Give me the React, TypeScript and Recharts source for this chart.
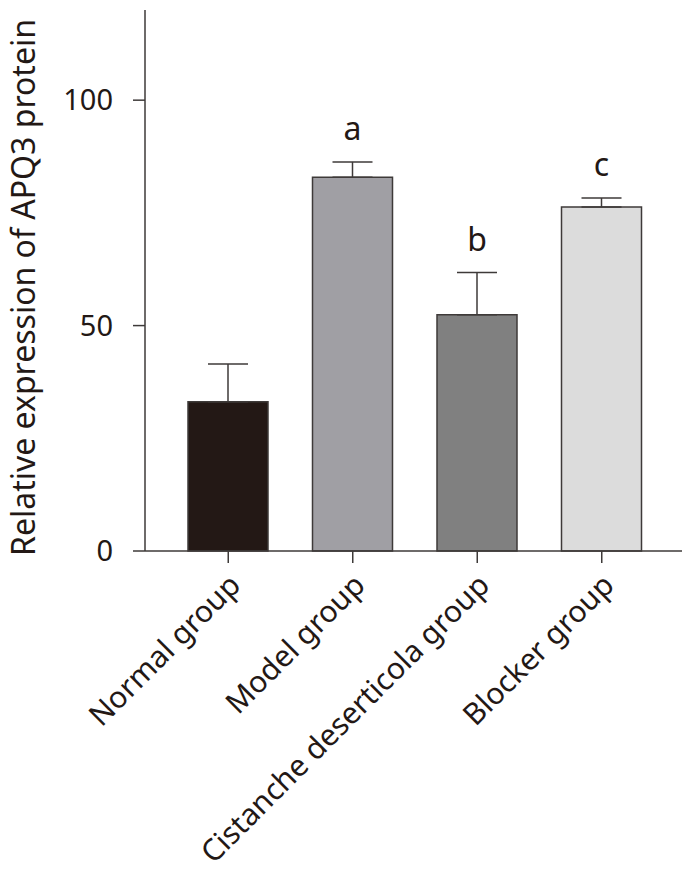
import { Bar, BarChart, Cell, ErrorBar, LabelList, XAxis, YAxis } from "recharts";

const groups = [
  "Normal group",
  "Model group",
  "Cistanche deserticola group",
  "Blocker group",
];
const means = [33.1, 82.9, 52.4, 76.3];
const sdUpper = [8.4, 3.4, 9.4, 2.0];
const letters = ["", "a", "b", "c"];
const yTicks = [0, 50, 100];

const fills = ["#231815", "#a09fa4", "#808080", "#dcdcdc"];
const ink = "#231815";
const lineColor = "#3e3a39";
const font = "'Noto Sans', sans-serif";

const data = groups.map((g, i) => ({
  group: g,
  value: means[i],
  err: [0, sdUpper[i]],
  letter: letters[i],
}));

function XTick(props: any) {
  const { x, y, payload } = props;
  const tx = x + 14;
  const ty = y + 22;
  return (
    <text
      x={tx}
      y={ty}
      transform={`rotate(-45, ${tx}, ${ty})`}
      textAnchor="end"
      fontSize={30}
      fontFamily={font}
      fill={ink}
    >
      {payload.value}
    </text>
  );
}

function renderLetter(props: any) {
  const { x, y, width, height, value, index } = props;
  if (!value) return null;
  const errPx = (sdUpper[index] * height) / means[index];
  return (
    <text
      x={x + width / 2}
      y={y - errPx - 34}
      textAnchor="middle"
      dominantBaseline="central"
      fontSize={32}
      fontFamily={font}
      fill={ink}
    >
      {value}
    </text>
  );
}

function YLabel(props: any) {
  const { viewBox } = props;
  const cx = viewBox.x + 22;
  const cy = viewBox.y + viewBox.height / 2 + 7;
  return (
    <text
      x={cx}
      y={cy}
      transform={`rotate(-90, ${cx}, ${cy})`}
      textAnchor="middle"
      dominantBaseline="central"
      fontSize={32}
      fontFamily={font}
      fill={ink}
    >
      Relative expression of APQ3 protein
    </text>
  );
}

export default function App() {
  return (
    <div style={{ margin: "-8px 0 0 -8px", background: "#fff", width: 690, height: 875 }}>
      <BarChart
        width={690}
        height={875}
        data={data}
        margin={{ top: 10, right: 0, left: 0, bottom: 0 }}
      >
        <XAxis
          dataKey="group"
          height={324}
          padding={{ left: 21, right: 26 }}
          tickSize={12}
          axisLine={{ stroke: lineColor, strokeWidth: 1.5 }}
          tickLine={{ stroke: lineColor, strokeWidth: 1.5 }}
          tick={<XTick />}
          interval={0}
        />
        <YAxis
          width={145}
          domain={[0, 120]}
          ticks={yTicks}
          tickSize={12}
          tickMargin={20}
          axisLine={{ stroke: lineColor, strokeWidth: 1.5 }}
          tickLine={{ stroke: lineColor, strokeWidth: 1.5 }}
          tick={{ fontSize: 29, fontFamily: font, fill: ink }}
          label={<YLabel />}
        />
        <Bar
          dataKey="value"
          barSize={80}
          stroke={lineColor}
          strokeWidth={1.5}
          isAnimationActive={false}
        >
          {data.map((d, i) => (
            <Cell key={d.group} fill={fills[i]} />
          ))}
          <ErrorBar
            dataKey="err"
            direction="y"
            width={20}
            stroke={lineColor}
            strokeWidth={1.5}
            isAnimationActive={false}
          />
          <LabelList dataKey="letter" content={renderLetter} />
        </Bar>
      </BarChart>
    </div>
  );
}
